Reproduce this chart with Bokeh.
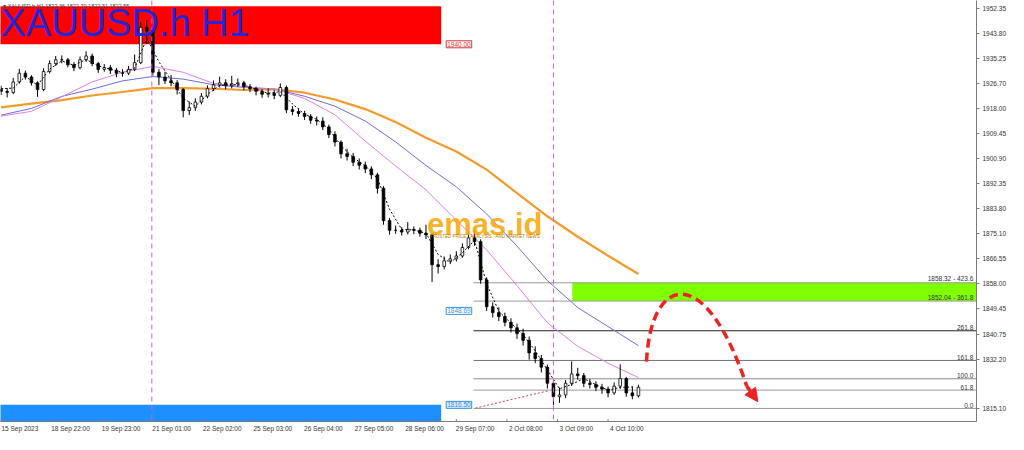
import numpy as np
from bokeh.plotting import figure
from bokeh.models import (Range1d, FixedTicker, Span, Label, Arrow, NormalHead,
                          ColumnDataSource)
from bokeh.core.properties import value
from bokeh.embed import file_html
from bokeh.resources import INLINE

# ---------------- data ----------------
bar_step = 3  # hours per drawn candle
first_open = 1924.5
closes = [1923.9, 1923.5, 1927.1, 1930.1, 1928.8, 1926.8, 1924.5, 1930.7, 1933.4, 1934.7,
          1934.7, 1933.0, 1932.0, 1934.7, 1936.0, 1933.4, 1931.4, 1932.0, 1931.1, 1930.1,
          1930.1, 1931.4, 1933.7, 1945.8, 1944.5, 1930.4, 1928.8, 1927.5, 1926.8, 1924.5,
          1917.3, 1918.3, 1920.2, 1922.2, 1924.8, 1926.1, 1926.8, 1925.8, 1926.5, 1926.8,
          1925.5, 1924.8, 1923.9, 1922.9, 1923.2, 1922.5, 1925.2, 1917.6, 1917.0, 1916.3,
          1915.3, 1914.0, 1913.7, 1911.7, 1909.1, 1906.5, 1902.5, 1901.6, 1899.6, 1898.6,
          1897.3, 1895.3, 1890.7, 1879.6, 1876.3, 1876.3, 1875.7, 1876.6, 1876.3, 1875.3,
          1874.7, 1864.5, 1863.9, 1865.8, 1866.5, 1867.5, 1870.4, 1873.7, 1872.4, 1859.3,
          1850.1, 1848.1, 1846.8, 1844.8, 1842.9, 1840.9, 1838.6, 1834.3, 1832.4, 1829.4,
          1823.9, 1819.3, 1819.9, 1823.9, 1827.1, 1826.5, 1823.9, 1823.5, 1822.5, 1821.9,
          1820.6, 1822.9, 1825.5, 1820.6, 1819.6, 1822.55]
highs = [1925.8, 1925.0, 1928.5, 1931.6, 1931.0, 1929.4, 1927.3, 1931.8, 1934.5, 1936.0,
         1936.2, 1935.3, 1933.9, 1935.8, 1937.6, 1936.8, 1934.0, 1933.2, 1932.9, 1931.9,
         1931.5, 1932.6, 1936.5, 1947.6, 1948.3, 1945.2, 1931.5, 1930.6, 1929.5, 1927.7,
         1925.0, 1920.4, 1921.5, 1923.3, 1925.9, 1927.6, 1928.9, 1928.0, 1929.2, 1928.3,
         1927.5, 1926.4, 1925.5, 1924.6, 1924.9, 1924.3, 1926.6, 1925.9, 1918.8, 1918.1,
         1917.2, 1916.1, 1915.3, 1915.0, 1912.5, 1910.2, 1907.1, 1904.2, 1902.8, 1900.9,
         1899.8, 1898.2, 1896.0, 1891.4, 1880.5, 1877.9, 1877.4, 1879.1, 1877.6, 1877.2,
         1878.2, 1875.4, 1866.4, 1867.3, 1868.0, 1869.1, 1871.8, 1875.5, 1876.6, 1873.2,
         1860.2, 1851.6, 1849.9, 1848.1, 1846.2, 1844.3, 1842.6, 1839.9, 1836.5, 1833.6,
         1830.3, 1824.8, 1822.4, 1825.0, 1831.4, 1829.2, 1827.4, 1825.3, 1824.6, 1823.7,
         1822.8, 1824.2, 1830.4, 1826.1, 1822.9, 1823.4]
lows = [1922.6, 1921.8, 1922.9, 1926.5, 1927.9, 1925.9, 1922.0, 1923.9, 1930.0, 1932.6,
        1933.5, 1932.1, 1930.8, 1931.4, 1934.0, 1932.5, 1930.2, 1930.6, 1929.8, 1928.7,
        1928.9, 1929.5, 1930.8, 1933.2, 1940.1, 1929.3, 1926.0, 1926.4, 1925.6, 1922.8,
        1915.0, 1915.8, 1917.2, 1919.4, 1921.5, 1924.0, 1925.2, 1924.6, 1924.9, 1925.4,
        1924.3, 1923.6, 1922.5, 1921.7, 1921.8, 1921.2, 1921.9, 1916.4, 1915.7, 1915.2,
        1914.1, 1912.8, 1912.2, 1910.6, 1907.9, 1905.0, 1900.9, 1900.2, 1898.3, 1897.1,
        1895.9, 1893.8, 1888.9, 1878.2, 1874.8, 1875.1, 1874.5, 1874.9, 1875.0, 1874.1,
        1873.3, 1858.6, 1861.5, 1862.9, 1864.7, 1865.6, 1866.9, 1869.8, 1871.0, 1858.0,
        1848.7, 1846.4, 1845.2, 1843.4, 1841.3, 1839.1, 1836.8, 1832.0, 1830.8, 1827.6,
        1822.1, 1816.5, 1817.2, 1818.8, 1823.0, 1825.1, 1822.6, 1822.1, 1821.2, 1820.3,
        1819.1, 1819.9, 1822.0, 1819.3, 1818.4, 1819.0]

# short dotted moving average (every 6 bars)
ma_fast_step = 6
ma_fast = [1924.8, 1925.0, 1929.0, 1926.0, 1931.5, 1934.3, 1932.8, 1934.8, 1932.6, 1931.5,
           1930.3, 1931.8, 1942.0, 1934.0, 1927.8, 1921.5, 1918.8, 1922.8, 1925.9, 1926.2,
           1926.0, 1924.6, 1923.2, 1923.8, 1919.6, 1916.0, 1914.3, 1911.0, 1905.3, 1901.2,
           1898.4, 1894.0, 1883.5, 1876.6, 1876.4, 1875.3, 1868.0, 1865.2, 1868.6, 1872.8,
           1858.0, 1848.5, 1844.5, 1840.5, 1835.0, 1828.5, 1822.0, 1823.5, 1825.5, 1823.4,
           1821.5, 1822.5, 1822.6]

# slow moving averages (every 15 bars)
ma_step = 15
ma_orange = [1918.37, 1919.69, 1920.85, 1922.46, 1923.65, 1924.97, 1924.97, 1924.77, 1924.34,
             1924.61, 1923.42, 1921.08, 1917.81, 1913.39, 1908.01, 1903.26, 1897.06, 1889.01,
             1881.09, 1874.07, 1867.57, 1861.30]
ma_blue = [1915.73, 1918.04, 1922.16, 1924.64, 1927.48, 1928.96, 1928.07, 1926.16, 1925.23,
           1924.67, 1922.20, 1918.80, 1913.72, 1906.56, 1898.51, 1891.16, 1881.88, 1870.87,
           1859.06, 1849.82, 1843.32, 1836.79]
ma_violet = [1915.40, 1917.05, 1922.00, 1927.11, 1930.41, 1932.43, 1930.41, 1926.62, 1925.36,
             1924.71, 1921.44, 1915.86, 1906.83, 1898.31, 1890.16, 1879.77, 1869.55, 1857.34,
             1844.64, 1836.55, 1830.78, 1825.83]

# axis ticks
x_tick_bars = [0, 25, 50, 75, 100, 125, 150, 175, 200, 225, 250, 275, 300]
x_tick_labels = ["15 Sep 2023", "18 Sep 22:00", "19 Sep 23:00", "21 Sep 01:00", "22 Sep 02:00",
                 "25 Sep 03:00", "26 Sep 04:00", "27 Sep 05:00", "28 Sep 06:00", "29 Sep 07:00",
                 "2 Oct 08:00", "3 Oct 09:00", "4 Oct 10:00"]
y_ticks = [1952.35, 1943.80, 1935.25, 1926.70, 1918.00, 1909.45, 1900.90, 1892.35, 1883.80,
           1875.10, 1866.55, 1858.00, 1849.45, 1840.75, 1832.20, 1815.10]

# zones (rectangles)
zone_left = [-10, -10, 282.3]
zone_right = [217.5, 217.5, 600]
zone_bottom = [1940.00, 1790.0, 1852.04]
zone_top = [1953.0, 1816.50, 1858.32]
zone_color = ["#ff0000", "#1e8fff", "#7fff00"]

# fibonacci expansion
fib_start_bar = 233.5
fib_end_bar = 490
fib_prices = [1815.27, 1821.55, 1825.43, 1831.71, 1841.88, 1852.04, 1858.32]
fib_texts = ["0.0", "61.8", "100.0", "161.8", "261.8", "1852.04 - 361.8", "1858.32 - 423.6"]
fib_colors = ["#9a9a9a", "#9a9a9a", "#8a8a8a", "#707070", "#202020", "#9a9a9a", "#9a9a9a"]

# price tags
tag_prices = [1940.00, 1848.69, 1816.50]
tag_texts = ["1940.00", "1848.69", "1816.50"]
tag_colors = ["#e03030", "#3d8fd8", "#3d8fd8"]
tag_fills = ["#ffffff", "#ffffff", "#d8ecff"]

# trend line (red dotted)
trend_bars = [234.5, 271.0]
trend_prices = [1815.4, 1821.4]

# vertical period separators
vline_bars = [74.5, 273.0]

# forecast arrow (bezier)
arc_start = (319.0, 1831.3)
arc_end = (368.5, 1823.0)
arc_c0 = (321.0, 1861.0)
arc_c1 = (348.0, 1866.0)
arrow_tip = (374.0, 1817.6)

last_price = 1822.55

# ---------------- figure ----------------
FONT = "Liberation Sans"
p = figure(width=1008, height=434, output_backend="svg", toolbar_location=None,
           x_range=Range1d(-0.3, 482.1), y_range=Range1d(1810.8, 1955.0),
           y_axis_location="right", min_border=0, min_border_right=2)
p.grid.visible = False
p.outline_line_color = None
p.background_fill_color = "white"

# axes (MT4 labels start at their bar: place label centres half a label to the right)
label_shift = 9.3
xa = p.xaxis[0]
x_label_pos = [b + label_shift for b in x_tick_bars]
xa.ticker = FixedTicker(ticks=x_label_pos)
xa.major_label_overrides = {b: s for b, s in zip(x_label_pos, x_tick_labels)}
ya = p.yaxis[0]
ya.ticker = FixedTicker(ticks=y_ticks)
ya.major_label_overrides = {v: f"{v:.2f}" for v in y_ticks}
for ax in (xa, ya):
    ax.axis_line_color = "#7a7a7a"
    ax.major_tick_line_color = "#7a7a7a"
    ax.major_tick_out = 3
    ax.major_tick_in = 0
    ax.minor_tick_line_color = None
    ax.major_label_text_font = FONT
    ax.major_label_text_font_size = "6.5px"
    ax.major_label_text_color = "#333333"
    ax.major_label_standoff = 3
xa.major_tick_out = 0

# zones
p.quad(left=zone_left, right=zone_right, bottom=zone_bottom, top=zone_top,
       fill_color=zone_color, line_color=None)

# tick marks of the time axis at the bars themselves
p.segment(x0=x_tick_bars, y0=[1810.8] * len(x_tick_bars), x1=x_tick_bars,
          y1=[1811.6] * len(x_tick_bars), line_color="#7a7a7a", line_width=1)

# fib lines + texts
fsrc = ColumnDataSource(dict(x0=[fib_start_bar] * len(fib_prices), x1=[fib_end_bar] * len(fib_prices),
                             y=fib_prices, t=fib_texts, c=fib_colors,
                             xt=[480.5] * len(fib_prices)))
p.segment(x0="x0", y0="y", x1="x1", y1="y", line_color="c", line_width=1, source=fsrc)
p.text(x="xt", y="y", text="t", source=fsrc, text_align="right", text_baseline="bottom",
       text_font=value(FONT), text_font_size="6.5px", text_color="#333333", y_offset=-0.5)

# vertical dashed separators
for vb in vline_bars:
    p.add_layout(Span(location=vb, dimension="height", line_color="#cf5ccf",
                      line_dash="5 4", line_width=1))

# moving averages
ma_x = [i * ma_step for i in range(len(ma_orange))]
p.line(ma_x, ma_orange, line_color="#f39a2a", line_width=2.2)
p.line(ma_x, ma_blue, line_color="#6b6bd6", line_width=1)
p.line(ma_x, ma_violet, line_color="#e07fe6", line_width=1)

# trend line
p.line(trend_bars, trend_prices, line_color="#e04040", line_dash="2 2", line_width=1)

# candles
xs = [i * bar_step for i in range(len(closes))]
opens = [first_open] + closes[:-1]
up = [c >= o for o, c in zip(opens, closes)]
csrc = ColumnDataSource(dict(
    x=xs, h=highs, l=lows,
    top=[max(o, c) for o, c in zip(opens, closes)],
    bot=[min(o, c) for o, c in zip(opens, closes)],
    fill=["#ffffff" if u else "#000000" for u in up]))
p.segment(x0="x", y0="h", x1="x", y1="l", line_color="#000000", line_width=1, source=csrc)
p.vbar(x="x", width=1.3, top="top", bottom="bot", fill_color="fill",
       line_color="#000000", line_width=0.8, source=csrc)

# fast dotted MA
ma_fast_x = [i * ma_fast_step for i in range(len(ma_fast))]
p.line(ma_fast_x, ma_fast, line_color="#000000", line_dash="2 2", line_width=1)

# price tags
for pr, t, c, f in zip(tag_prices, tag_texts, tag_colors, tag_fills):
    p.add_layout(Label(x=220.0, y=pr, text=t, text_font=FONT, text_font_size="6.5px",
                       text_color=c, text_baseline="middle", background_fill_color=f,
                       border_line_color=c, border_line_width=1, padding=1))

# current price tag
p.add_layout(Label(x=482.1, y=last_price, text=f"{last_price:.2f}", text_font=FONT,
                   text_font_size="6.5px", text_color="white", text_baseline="middle",
                   background_fill_color="#000000", x_offset=1, padding=1))

# forecast arrow
p.bezier(x0=[arc_start[0]], y0=[arc_start[1]], x1=[arc_end[0]], y1=[arc_end[1]],
         cx0=[arc_c0[0]], cy0=[arc_c0[1]], cx1=[arc_c1[0]], cy1=[arc_c1[1]],
         line_color="#ee2222", line_width=3.5, line_dash="9 5")
p.add_layout(Arrow(x_start=arc_end[0], y_start=arc_end[1], x_end=arrow_tip[0], y_end=arrow_tip[1],
                   line_color="#ee2222", line_width=3.5,
                   end=NormalHead(size=13, fill_color="#ee2222", line_color="#ee2222")))

# title and header
p.add_layout(Label(x=-0.3, y=1940.2, text="XAUUSD.h H1", text_font=FONT,
                   text_font_size="38px", text_color="#2424d8", text_baseline="bottom"))
p.add_layout(Label(x=1.0, y=1953.0, text="\u25be XAUUSD.h,H1  1822.36 1822.70 1822.31 1822.55",
                   text_font=FONT, text_font_size="5.5px", text_color="#444444",
                   text_baseline="alphabetic"))

# watermark logo
p.add_layout(Label(x=210.5, y=1878.3, text="emas.id", text_font=FONT, text_font_style="bold",
                   text_font_size="31px", text_color="#f6a90c", text_alpha=0.9,
                   text_baseline="alphabetic"))
p.add_layout(Label(x=212.0, y=1873.4, text="TRUSTED PRICE \u00b7 ANALYSIS \u00b7 AND MARKET NEWS",
                   text_font=FONT, text_font_size="4.5px", text_color="#b87800",
                   text_baseline="bottom"))

open("out.html", "w").write(file_html(p, INLINE))
